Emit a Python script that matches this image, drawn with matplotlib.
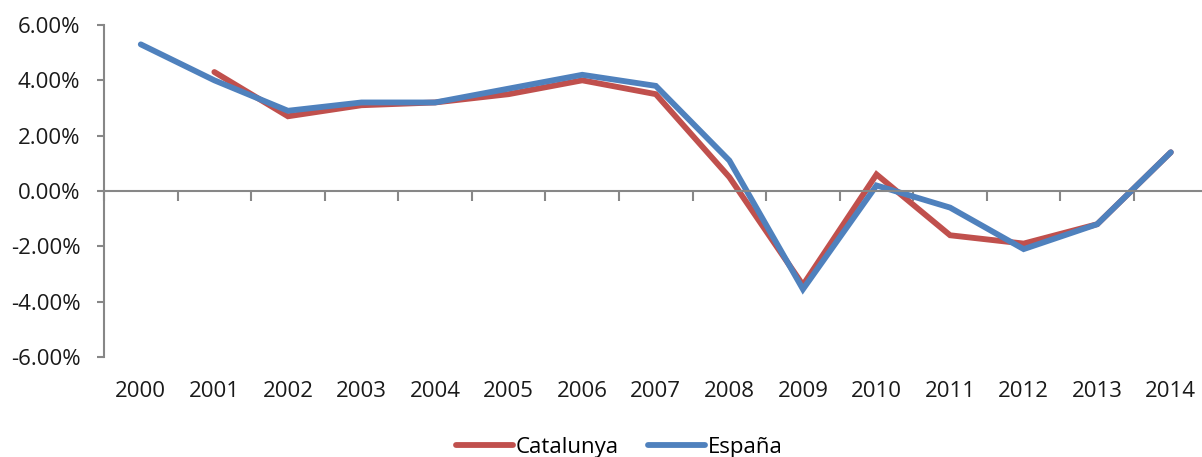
import matplotlib
matplotlib.use("Agg")
import matplotlib.pyplot as plt
import matplotlib.transforms as mtransforms
import numpy as np

years = ["2000", "2001", "2002", "2003", "2004", "2005", "2006", "2007",
         "2008", "2009", "2010", "2011", "2012", "2013", "2014"]
catalunya = [np.nan, 4.3, 2.7, 3.1, 3.2, 3.5, 4.0, 3.5, 0.5, -3.4, 0.6, -1.6, -1.9, -1.2, 1.4]
espana = [5.3, 4.0, 2.9, 3.2, 3.2, 3.7, 4.2, 3.8, 1.1, -3.55, 0.2, -0.6, -2.1, -1.2, 1.4]
yticks = [-6, -4, -2, 0, 2, 4, 6]

plt.rcParams['font.family'] = ['Open Sans', 'DejaVu Sans']

W, H = 1202, 457
fig = plt.figure(figsize=(W / 100, H / 100), dpi=100)
left, right, top, bottom = 104, 1207.6, 25, 357
ax = fig.add_axes([left / W, 1 - bottom / H, (right - left) / W, (bottom - top) / H])

x = np.arange(len(years))
red = '#C0504D'
blue = '#4F81BD'
ax.plot(x, catalunya, color=red, lw=4.2, solid_capstyle='round', solid_joinstyle='miter', label='Catalunya')
ax.plot(x, espana, color=blue, lw=4.2, solid_capstyle='round', solid_joinstyle='miter', label='España')

ax.set_xlim(-0.5, len(years) - 0.5)
ax.set_ylim(-6, 6)
ax.set_yticks(yticks)
ax.set_yticklabels([f"{v:.2f}%" for v in yticks], fontsize=16, color='#1a1a1a')

gray = '#878787'
for s in ['top', 'right']:
    ax.spines[s].set_visible(False)
ax.spines['left'].set_color(gray)
ax.spines['left'].set_linewidth(1.5)
ax.spines['bottom'].set_position(('data', 0))
ax.spines['bottom'].set_color(gray)
ax.spines['bottom'].set_linewidth(1.5)
ax.tick_params(axis='y', direction='out', length=5, width=1.5, color=gray, pad=12)
ax.set_xticks(np.arange(-0.5, len(years), 1.0))
ax.set_xticklabels([])
ax.tick_params(axis='x', direction='out', length=7, width=1.5, color=gray)

trans = mtransforms.blended_transform_factory(ax.transData, ax.transAxes)
for xi, lab in zip(x, years):
    ax.text(xi, -0.105, lab, transform=trans, ha='center', va='center', fontsize=16, color='#1a1a1a')

fig.legend(loc='center', bbox_to_anchor=(0.515, 1 - 447 / H), ncol=2, frameon=False,
           fontsize=16, handlelength=2.6, handletextpad=0.1, columnspacing=1.3)

fig.savefig('out.png', dpi=100)
